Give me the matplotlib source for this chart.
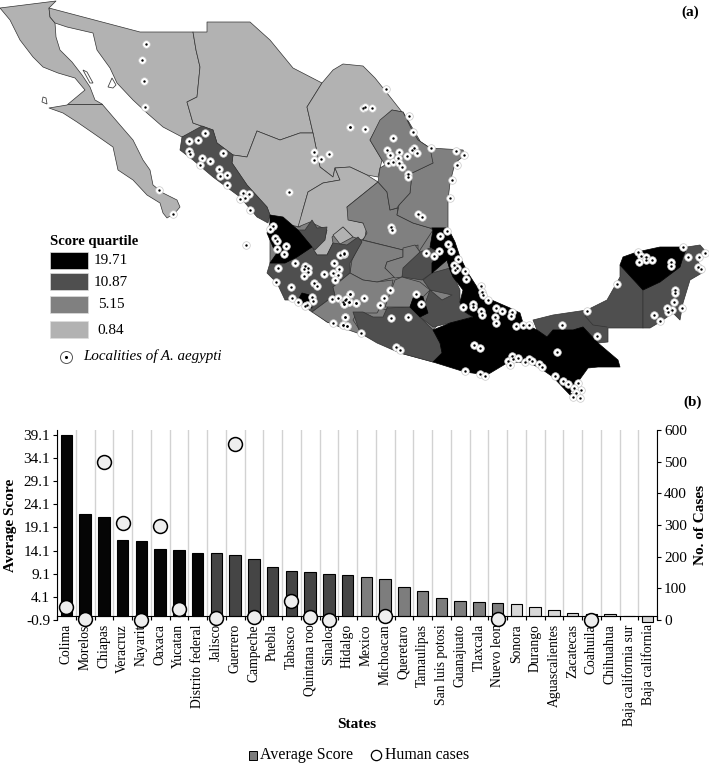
import matplotlib
matplotlib.use('Agg')
import matplotlib.pyplot as plt
from matplotlib.patches import Polygon, Rectangle

plt.rcParams['font.family'] = ['Liberation Serif', 'DejaVu Serif']

# bar chart data
states = ['Colima', 'Morelos', 'Chiapas', 'Veracruz', 'Nayarit', 'Oaxaca', 'Yucatan', 'Distrito federal',
          'Jalisco', 'Guerrero', 'Campeche', 'Puebla', 'Tabasco', 'Quintana roo', 'Sinaloa', 'Hidalgo',
          'Mexico', 'Michoacan', 'Queretaro', 'Tamaulipas', 'San luis potosi', 'Guanajuato', 'Tlaxcala',
          'Nuevo leon', 'Sonora', 'Durango', 'Aguascalientes', 'Zacatecas', 'Coahuila', 'Chihuahua',
          'Baja california sur', 'Baja california']
scores = [39.1, 22.1, 21.4, 16.5, 16.25, 14.45, 14.3, 13.6, 13.5, 13.15, 12.2, 10.6, 9.6, 9.5, 9.0, 8.8,
          8.3, 8.0, 6.2, 5.3, 3.8, 3.1, 2.9, 2.85, 2.5, 1.85, 1.35, 0.55, 0.4, 0.35, -0.1, -1.26]
cases = [40, 2, 498, 305, 0, 298, 34, None, 7, 556, 10, None, 59, 8, 0, None,
         None, 14, None, None, None, None, None, 3, None, None, None, None, 0, None, None, None]
bar_shades = ['#050505'] * 8 + ['#454545'] * 8 + ['#7d7d7d'] * 8 + ['#d8d8d8'] * 8
left_ticks = [-0.9, 4.1, 9.1, 14.1, 19.1, 24.1, 29.1, 34.1, 39.1]
right_ticks = [0, 100, 200, 300, 400, 500, 600]

# map colours
C1 = '#000000'
C2 = '#4f4f4f'
C3 = '#808080'
C4 = '#b2b2b2'

# state outlines, in picture pixels
baja = [(0,8),(10,20),(20,40),(33,57),(43,67),(58,73),(75,78),(85,90),(73,100),(67,105),(49,108),(63,113),
        (77,122),(93,133),(113,147),(118,170),(133,180),(147,195),(160,203),(163,213),(167,218),(175,213),
        (180,207),(177,200),(163,193),(153,185),(150,170),(143,160),(133,140),(120,125),(102,104),(95,100),
        (90,87),(82,75),(72,62),(60,50),(56,37),(55,23),(50,17),(49,8),(56,1)]
sonora = [(49,8),(140,32),(193,32),(196,50),(200,67),(197,97),(187,102),(193,123),(207,128),(182,137),
          (163,127),(147,113),(133,100),(117,83),(110,68),(97,50),(93,33),(67,27),(55,23),(50,17)]
chihuahua = [(193,32),(207,32),(207,22),(250,22),(270,40),(293,68),(322,83),(307,107),(313,133),(300,133),
             (280,140),(257,131),(247,157),(233,155),(217,143),(213,130),(207,128),(193,123),(187,102),
             (197,97),(200,67),(196,50)]
coahuila = [(322,83),(333,70),(343,64),(363,66),(375,78),(387,93),(402,112),(392,110),(380,122),(370,140),
            (382,160),(378,177),(367,175),(350,167),(335,168),(333,177),(320,167),(313,133),(307,107)]
durango = [(247,157),(257,131),(280,140),(300,133),(313,133),(320,167),(333,177),(335,168),(340,180),
           (323,183),(308,192),(302,213),(300,227),(290,225),(270,215),(267,207),(247,185),(232,163),(233,155)]
zacatecas = [(335,168),(350,167),(367,175),(378,182),(347,207),(350,220),(363,223),(367,225),(365,237),
             (362,240),(353,237),(343,227),(332,237),(333,243),(327,255),(317,255),(313,250),(325,238),
             (327,230),(310,222),(298,227),(302,213),(308,192),(323,183),(340,180)]
aguascalientes = [(333,235),(343,227),(353,237),(340,244)]
sinaloa = [(182,137),(180,150),(193,160),(213,177),(240,197),(257,217),(268,223),(270,215),(267,207),
           (247,185),(232,163),(233,155),(217,143),(213,130),(202,126)]
nayarit = [(270,215),(283,217),(298,230),(312,247),(297,257),(285,263),(270,263),(277,253),(273,247),
           (267,233),(270,223)]
jalisco_n = [(297,230),(305,230),(312,220),(317,228),(327,227),(325,240),(315,250),(312,247)]
jalisco = [(267,273),(270,263),(285,263),(297,257),(312,247),(317,255),(327,255),(333,243),(347,245),
           (358,237),(362,242),(350,263),(350,273),(333,287),(335,295),(312,312),(305,307),(298,300),
           (285,300),(277,283)]
colima = [(302,293),(310,295),(312,308),(305,307),(298,300)]
slp = [(378,182),(347,207),(348,220),(363,223),(367,233),(363,240),(403,250),(418,245),(418,253),(433,230),
       (430,228),(413,223),(397,215),(398,208),(390,210),(387,192)]
nuevo_leon = [(392,110),(403,112),(412,130),(418,140),(430,148),(433,163),(412,173),(410,193),(399,205),
              (397,208),(390,210),(387,192),(378,182),(380,168),(385,165),(370,140),(380,120)]
tamaulipas = [(403,112),(412,130),(418,140),(430,148),(463,150),(465,155),(455,163),(450,183),(448,200),
              (448,228),(430,228),(413,223),(397,215),(399,205),(410,193),(412,173),(433,163)]
guanajuato = [(352,260),(362,240),(403,250),(403,257),(387,262),(385,268),(395,277),(377,282),(363,280),(350,273)]
queretaro = [(403,248),(415,245),(420,252),(402,277),(395,278),(385,268),(387,262),(403,257)]
hidalgo = [(403,268),(420,252),(430,248),(438,253),(432,263),(432,273),(422,280),(402,277)]
puebla = [(423,280),(432,273),(450,268),(460,290),(460,302),(462,310),(472,317),(450,323),(433,327),
          (420,317),(430,290)]
tlaxcala = [(430,290),(452,295),(442,300)]
morelos = [(415,293),(423,297),(428,313),(420,317),(410,307)]
mexico_st = [(402,277),(420,282),(430,290),(423,297),(415,293),(410,307),(385,307),(395,280)]
michoacan = [(333,287),(350,273),(363,280),(377,282),(393,280),(387,310),(380,308),(377,313),(357,313),
             (353,320),(363,335),(340,327),(327,322),(312,312),(335,295)]
guerrero = [(353,312),(363,312),(373,317),(383,317),(387,308),(410,307),(420,317),(433,330),(440,343),
            (442,353),(433,362),(400,353),(377,343),(360,333)]
sur_este = [(432,228),(448,228),(455,242),(460,257),(468,273),(477,287),(487,298),(510,308),(520,313),
            (523,323),(537,330),(547,337),(553,330),(573,330),(583,327),(598,343),(618,360),(620,367),
            (598,367),(588,368),(570,393),(580,398),(573,398),(553,377),(540,368),(527,362),(507,363),
            (487,375),(465,372),(433,362),(442,353),(440,343),(433,330),(450,323),(473,317),(462,310),
            (460,302),(463,290),(453,277),(450,270),(447,260),(432,273),(432,263),(440,253),(430,247),(433,230)]
campeche = [(533,320),(553,315),(587,310),(607,300),(620,277),(620,265),(643,290),(643,328),(608,328),
            (608,342),(598,343),(583,327),(573,330),(553,330),(547,337),(537,330)]
yucatan = [(620,265),(623,257),(637,252),(660,247),(687,247),(683,257),(680,267),(660,282),(643,290)]
q_roo = [(687,247),(700,245),(707,253),(698,260),(702,273),(690,280),(683,303),(680,320),(673,313),
         (660,322),(650,328),(643,328),(643,290),(660,282),(680,267),(683,257)]
islands = [[(83,70),(87,72),(93,83),(90,83)], [(108,87),(112,78),(116,85),(113,88)], [(43,97),(46,98),(47,104),(42,102)]]
# fills the slivers left between the hand-read central states
centre_fill = [(298,227),(340,180),(378,182),(433,230),(447,260),(460,300),(433,330),(433,362),(400,353),
               (360,333),(327,322),(298,300),(270,263),(270,215)]
tabasco_line = [(585,316),(593,325),(607,327)]

map_layers = [(centre_fill, C3), (baja, C4), (sonora, C4), (chihuahua, C4), (coahuila, C4), (durango, C4),
              (zacatecas, C4), (aguascalientes, C4), (slp, C3), (tamaulipas, C3), (nuevo_leon, C3),
              (guanajuato, C3), (queretaro, C3), (sinaloa, C2), (jalisco, C2), (jalisco_n, C2), (michoacan, C3),
              (guerrero, C2), (hidalgo, C2), (puebla, C2), (mexico_st, C3), (tlaxcala, C3), (campeche, C2),
              (q_roo, C2), (nayarit, C1), (colima, C1), (morelos, C1), (sur_este, C1), (yucatan, C1)]

# localities read at 3x, west part (origin 0,0) and east part (origin 340,60)
loc_west = [(438,131),(427,179),(432,242),(436,321),(477,569),(518,641),(615,399),(594,419),(566,424),(566,452),
            (570,462),(606,475),(631,482),(601,494),(668,459),(658,507),(659,528),(680,525),(681,556),(729,580),
            (746,581),(735,593),(720,598),(749,630),(819,679),(810,686),(826,715),(830,724),(858,738),(851,761),
            (832,747),(835,805),(886,789),(915,798),(925,803),(923,817),(911,807),(912,829),(828,847),(873,861),
            (943,850),(951,858),(877,893),(893,905),(937,890),(940,903),(922,914),(915,918),(972,822),(1001,789),
            (1018,807),(1000,818),(1015,824),(1005,840),(1021,765),(1033,761),(868,577),(941,455),(942,480),
            (962,476),(987,462),(1050,382),(738,734),(996,896),(1014,894),(1050,882),(1030,905),(1036,900),
            (1047,907),(1068,910),(1033,913),(1034,952),(1000,968),(1030,975),(1040,978)]
loc_east = [(137,88),(68,143),(74,142),(95,145),(30,202),(75,208),(160,233),(207,169),(219,215),(273,265),
            (347,274),(371,286),(352,316),(335,361),(330,414),(223,265),(215,270),(231,280),(200,287),(177,275),
            (140,270),(150,285),(143,308),(160,305),(175,295),(178,310),(185,320),(204,342),(204,352),(233,461),
            (245,470),(153,500),(155,510),(321,514),(300,527),(323,552),(334,573),(297,574),(283,587),(257,579),
            (354,598),(343,615),(352,625),(345,630),(375,633),(379,658),(422,678),(425,695),(428,705),(443,720),
            (469,743),(487,753),(516,755),(513,768),(465,770),(467,788),(423,752),(427,765),(370,742),(399,732),
            (400,741),(229,702),(243,732),(150,690),(133,715),(121,736),(72,713),(30,702),(47,730),(28,725),
            (18,718),(12,733),(14,771),(8,795),(22,797),(63,818),(153,773),(205,771),(168,860),(180,869),
            (742,752),(666,795),(527,798),(550,795),(567,795),(770,829),(832,673),(402,856),(419,863),(652,877),
            (516,888),(505,903),(520,897),(533,895),(510,915),(555,905),(567,897),(576,902),(598,911),(607,920),
            (375,934),(419,943),(435,948),(646,947),(668,963),(684,971),(713,969),(723,991),(703,985),(707,1000),
            (700,1010),(720,1014),(893,577),(903,587),(918,590),(918,600),(937,601),(897,607),(1030,562),(1044,590),
            (1077,592),(1095,578),(1073,622),(1083,628),(992,606),(993,618),(1005,690),(1005,700),(1001,727),
            (1026,743),(995,750),(985,755),(980,745),(943,764),(961,782),(12,580)]

quartile_labels = ['19.71', '10.87', '5.15', '0.84']
quartile_colors = [C1, C2, C3, C4]

W, H = 709, 764
fig = plt.figure(figsize=(W / 100, H / 100), dpi=100)

# map layer covers the whole figure and works in pixels
mp = fig.add_axes([0, 0, 1, 1], zorder=0)
mp.set_xlim(0, W)
mp.set_ylim(H, 0)
mp.axis('off')

for pts, col in map_layers:
    edge = '#333333' if col != C1 else C1
    mp.add_patch(Polygon(pts, closed=True, fc=col, ec=edge, lw=0.5, joinstyle='round'))
for pts in islands:
    mp.add_patch(Polygon(pts, closed=True, fc='white', ec='#444444', lw=0.6))
mp.plot([68, 102], [104, 104], color='#333333', lw=0.6)
mp.plot([p[0] for p in tabasco_line], [p[1] for p in tabasco_line], color='#333333', lw=0.5)

lx = [p[0] / 3 for p in loc_west] + [340 + p[0] / 3 for p in loc_east]
ly = [p[1] / 3 for p in loc_west] + [60 + p[1] / 3 for p in loc_east]
mp.scatter(lx, ly, s=30, c='white', edgecolors='#c8c8c8', linewidths=0.5, zorder=5)
mp.scatter(lx, ly, s=3, c='black', linewidths=0, zorder=6)

# map legend
mp.text(50, 241, 'Score quartile', fontsize=10.5, fontweight='bold', ha='left', va='center')
box_y = [252, 273, 296, 321]
text_y = [260, 282, 305, 330]
for y0, ty, lab, col in zip(box_y, text_y, quartile_labels, quartile_colors):
    mp.add_patch(Rectangle((50, y0), 38, 17, fc=col, ec='#dddddd', lw=0.5))
    mp.text(111, ty, lab, fontsize=11, ha='center', va='center')
mp.scatter([66], [357], s=75, c='white', edgecolors='#555555', linewidths=0.7)
mp.scatter([66], [357], s=5, c='black', linewidths=0)
mp.text(83, 356, 'Localities of A. aegypti', fontsize=10.8, style='italic', ha='left', va='center')

mp.text(690, 12, '(a)', fontsize=11, fontweight='bold', ha='center', va='center')
mp.text(693, 402, '(b)', fontsize=11, fontweight='bold', ha='center', va='center')
mp.text(357, 725, 'States', fontsize=11, fontweight='bold', ha='center', va='center')
mp.text(11, 525, 'Average Score', fontsize=11, fontweight='bold', rotation=90, ha='center', va='center')
mp.text(701, 525, 'No. of Cases', fontsize=11, fontweight='bold', rotation=90, ha='center', va='center')

# chart legend
mp.add_patch(Rectangle((249, 751), 8, 9, fc='#7d7d7d', ec='black', lw=0.7))
mp.text(260, 755, 'Average Score', fontsize=11.4, ha='left', va='center')
mp.scatter([376], [755], s=55, c='white', edgecolors='black', linewidths=0.9)
mp.text(385, 755, 'Human cases', fontsize=11.4, ha='left', va='center')

# bar chart
left, right, top, bottom = 57, 657, 430, 620
ax = fig.add_axes([left / W, 1 - bottom / H, (right - left) / W, (bottom - top) / H], zorder=1)
ax.patch.set_alpha(0)
xs = list(range(len(states)))
ax.bar(xs, scores, width=0.62, color=bar_shades, edgecolor='black', linewidth=0.8, zorder=3, clip_on=False)
ax.set_xlim(-0.5, len(states) - 0.5)
ax.set_ylim(-0.9, 40.18)
ax.spines['top'].set_visible(False)
ax.spines['right'].set_visible(False)
ax.spines['bottom'].set_position(('data', 0))
ax.spines['bottom'].set_zorder(4)
ax.set_yticks(left_ticks)
ax.set_yticklabels(['%.1f' % v for v in left_ticks], fontsize=11)
ax.tick_params(axis='y', length=3, pad=2)
ax.set_xticks(xs)
ax.set_xticklabels(states, rotation=90, fontsize=9.8, va='top', ha='center')
ax.tick_params(axis='x', which='major', length=0, pad=6)
ax.set_xticks([x - 0.5 for x in xs] + [len(states) - 0.5], minor=True)
ax.tick_params(axis='x', which='minor', length=3, width=0.8)
ax.grid(axis='x', which='minor', color='#d2d2d2', lw=1.0, zorder=1)
ax.set_axisbelow(True)

ax2 = ax.twinx()
ax2.set_zorder(2)
ax2.patch.set_alpha(0)
ax2.set_ylim(0, 600)
ax2.set_yticks(right_ticks)
ax2.set_yticklabels([str(v) for v in right_ticks], fontsize=11)
ax2.tick_params(axis='y', length=3, pad=2)
for side in ['top', 'left', 'bottom']:
    ax2.spines[side].set_visible(False)
case_x = [x for x, c in zip(xs, cases) if c is not None]
case_y = [c for c in cases if c is not None]
ax2.scatter(case_x, case_y, s=100, c='#eeeeee', edgecolors='black', linewidths=1.1, clip_on=False, zorder=6)

fig.savefig('out.png', dpi=100)
